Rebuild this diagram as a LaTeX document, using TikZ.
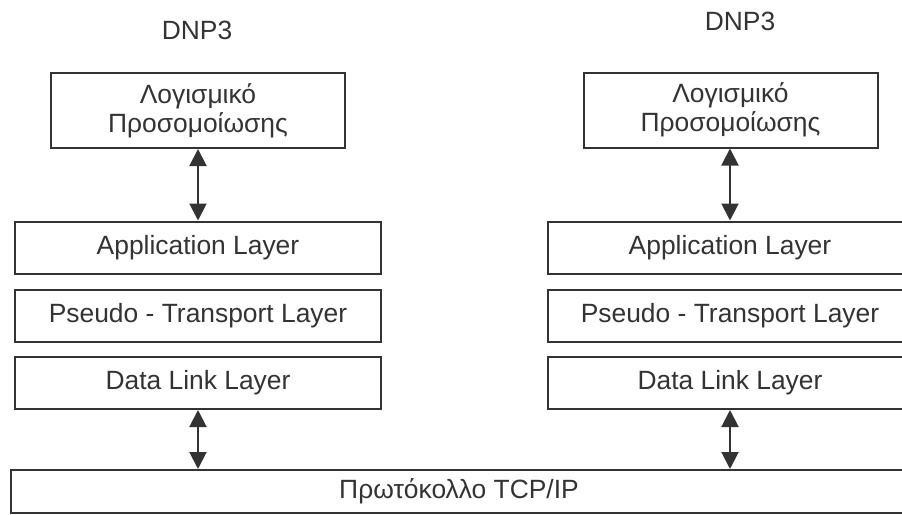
\documentclass[tikz,border=0pt]{standalone}
\usepackage{fontspec}
\setmainfont{Liberation Sans}
\usetikzlibrary{arrows.meta}
\definecolor{ink}{HTML}{333333}
\tikzset{
  box/.style={draw=ink, line width=1pt, fill=white, inner sep=0pt, align=center,
    text=ink, font=\fontsize{13.2}{14.6}\selectfont},
  topbox/.style={box, minimum width=147pt, minimum height=37.5pt},
  layer/.style={box, minimum height=26pt},
  title/.style={text=ink, font=\fontsize{13.2}{14.6}\selectfont, inner sep=0pt},
  link/.style={draw=ink, line width=1pt,
    {Triangle[length=8.5pt,width=8.5pt]}-{Triangle[length=8.5pt,width=8.5pt]}}
}
\begin{document}
\begin{tikzpicture}[x=0.5pt, y=-0.5pt]
  \useasboundingbox (0,0) rectangle (902,515);
  \fill[white] (0,0) rectangle (902,515);
  \clip (0,0) rectangle (902,515);

  % left stack
  \node[title] (ltitle) at (197,30) {DNP3};
  \node[topbox] (ltop) at (198,110.5) {Λογισμικό\\Προσομοίωσης};
  \node[layer, minimum width=183pt] (lapp) at (198,247.5) {Application Layer};
  \node[layer, minimum width=183pt] (lpse) at (198,315.5) {Pseudo - Transport Layer};
  \node[layer, minimum width=183pt] (ldll) at (198,383) {Data Link Layer};

  % right stack
  \node[title] (rtitle) at (740,21) {DNP3};
  \node[topbox] (rtop) at (730.5,110) {Λογισμικό\\Προσομοίωσης};
  \node[layer, minimum width=182pt] (rapp) at (730,247.5) {Application Layer};
  \node[layer, minimum width=182pt] (rpse) at (730,315.5) {Pseudo - Transport Layer};
  \node[layer, minimum width=182pt] (rdll) at (730,383) {Data Link Layer};

  % shared transport
  \node[box, minimum width=448pt, minimum height=21.5pt] (tcp) at (459,491.5) {Πρωτόκολλο TCP/IP};

  % connectors
  \draw[link] (ltop.south) -- (lapp.north);
  \draw[link] (rtop.south -| rapp.north) -- (rapp.north);
  \draw[link] (ldll.south) -- (ldll.south |- tcp.north);
  \draw[link] (rdll.south) -- (rdll.south |- tcp.north);
\end{tikzpicture}
\end{document}
